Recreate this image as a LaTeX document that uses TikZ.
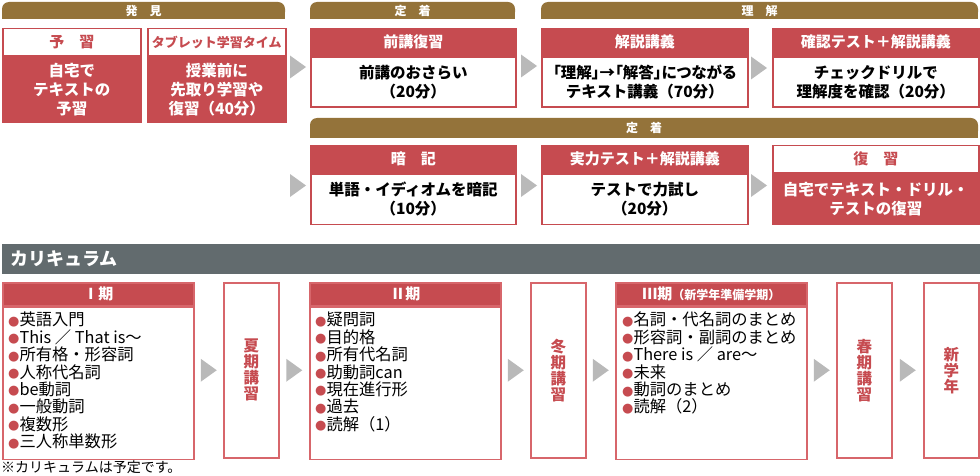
\documentclass[tikz,border=0pt]{standalone}
\usepackage{fontspec}
\setmainfont{Noto Sans CJK JP}
\newfontfamily\symfont{DejaVu Sans}
\usetikzlibrary{calc}

\definecolor{kred}{HTML}{C64B50}
\definecolor{kpink}{HTML}{D7666B}
\definecolor{gold}{HTML}{94733A}
\definecolor{slate}{HTML}{626B6E}
\definecolor{arrgray}{HTML}{B9B9B9}

\newcommand{\rdot}{\raisebox{0.5pt}{\symfont\fontsize{13}{13}\selectfont\textcolor{kred}{●}}}
\newcommand{\flowtri}[1]{\fill[arrgray] ($#1+(-8,-11.5)$) -- ($#1+(8,0)$) -- ($#1+(-8,11.5)$) -- cycle;}

\tikzset{
	bar/.style={fill=gold, rounded corners=7pt, text=white, inner sep=0pt, minimum height=17pt, font=\bfseries\fontsize{12}{12}\selectfont},
	hd/.style={draw=kred, line width=1.5pt, fill=kred, text=white, inner sep=0pt, anchor=north west, minimum height=27pt, font=\bfseries\fontsize{15}{15}\selectfont},
	hdw/.style={hd, fill=white, text=kred},
	bd/.style={draw=kred, line width=1.5pt, fill=white, text=black, inner sep=0pt, anchor=north west, align=center, font=\bfseries\fontsize{15.5}{19}\selectfont},
	bdr/.style={bd, fill=kred, text=white},
	ch/.style={draw=kpink, line width=1.5pt, fill=kred, text=white, inner sep=0pt, anchor=north west, minimum width=191pt, minimum height=23pt, font=\bfseries\fontsize{15}{15}\selectfont},
	cb/.style={draw=kpink, line width=1.5pt, fill=white, inner sep=0pt, anchor=north west, minimum width=191pt, minimum height=152pt},
	vbox/.style={draw=kpink, line width=1.5pt, text=kred, inner sep=0pt, anchor=north west, align=center, minimum width=55pt, minimum height=175pt, font=\bfseries\fontsize{15.5}{16}\selectfont},
	list/.style={anchor=north west, align=left, inner sep=0pt, font=\fontsize{16.3}{17.4}\selectfont}
}

\begin{document}
\begin{tikzpicture}[x=1pt, y=-1pt]

	\useasboundingbox (0,0) rectangle (980,476);

	\fill[gold] (2,10) rectangle (285,19);
	\node[bar, minimum width=283pt] (hakken) at (143.5,10.5) {発\quad 見};
	\fill[gold] (310,10) rectangle (515,19);
	\node[bar, minimum width=205pt] (teichaku) at (412.5,10.5) {定\quad 着};
	\fill[gold] (541,10) rectangle (978,19);
	\node[bar, minimum width=437pt] (rikai) at (759.5,10.5) {理\quad 解};

	\node[hdw, minimum width=138pt] (yoshuT) at (2,28) {予\quad 習};
	\node[bdr, minimum width=138pt, minimum height=65pt] (yoshu) at (yoshuT.south west) {自宅で\\テキストの\\予習};
	\node[hdw, minimum width=138pt, font=\bfseries\fontsize{13}{13}\selectfont] (tabletT) at (147,28) {タブレット学習タイム};
	\node[bdr, minimum width=138pt, minimum height=65pt] (tablet) at (tabletT.south west) {授業前に\\先取り学習や\\復習（40分）};

	\node[hd, minimum width=205pt] (zenkoT) at (310,28) {前講復習};
	\node[bd, minimum width=205pt, minimum height=50pt] (zenko) at (zenkoT.south west) {前講のおさらい\\（20分）};
	\node[hd, minimum width=206pt] (kaisetsuT) at (541,28) {解説講義};
	\node[bd, minimum width=206pt, minimum height=50pt] (kaisetsu) at (kaisetsuT.south west) {{\addfontfeature{RawFeature=+palt}「理解」→「解答」につながる}\\テキスト講義（70分）};
	\node[hd, minimum width=206pt] (kakuninT) at (772,28) {確認テスト＋解説講義};
	\node[bd, minimum width=206pt, minimum height=50pt] (kakunin) at (kakuninT.south west) {チェックドリルで\\理解度を確認（20分）};

	\flowtri{(298,67)}
	\flowtri{(529,66)}
	\flowtri{(759,68)}

	\fill[gold] (310,128) rectangle (978,138);
	\node[bar, minimum width=668pt, minimum height=20pt] (teichaku2) at (644,128) {定\quad 着};

	\node[hd, minimum width=205pt] (ankiT) at (310,145) {暗\quad 記};
	\node[bd, minimum width=205pt, minimum height=50pt] (anki) at (ankiT.south west) {単語・イディオムを暗記\\（10分）};
	\node[hd, minimum width=206pt] (jitsuryokuT) at (541,145) {実力テスト＋解説講義};
	\node[bd, minimum width=206pt, minimum height=50pt] (jitsuryoku) at (jitsuryokuT.south west) {テストで力試し\\（20分）};
	\node[hdw, minimum width=206pt] (fukushuT) at (772,145) {復\quad 習};
	\node[bdr, minimum width=206pt, minimum height=50pt] (fukushu) at (fukushuT.south west) {自宅でテキスト・ドリル・\\テストの復習};

	\flowtri{(298,185.5)}
	\flowtri{(529,185.5)}
	\flowtri{(759,185.5)}

	\node[fill=slate, anchor=north west, text width=962pt, inner xsep=8pt, inner ysep=0pt, minimum height=30pt, text=white, font=\bfseries\fontsize{18}{18}\selectfont] (curriculum) at (2,244) {カリキュラム};

	\node[ch] (ki1T) at (2,282) {Ⅰ期};
	\node[cb] (ki1) at (ki1T.south west) {};
	\node[list] (ki1List) at (8,312) {\rdot 英語入門\\\rdot This ／ That is～\\\rdot 所有格・形容詞\\\rdot 人称代名詞\\\rdot be動詞\\\rdot 一般動詞\\\rdot 複数形\\\rdot 三人称単数形};
	\node[vbox] (kaki) at (223,282) {夏\\期\\講\\習};

	\node[ch] (ki2T) at (309,282) {Ⅱ期};
	\node[cb] (ki2) at (ki2T.south west) {};
	\node[list] (ki2List) at (315,312) {\rdot 疑問詞\\\rdot 目的格\\\rdot 所有代名詞\\\rdot 助動詞can\\\rdot 現在進行形\\\rdot 過去\\\rdot 読解（1）};
	\node[vbox] (toki) at (530,282) {冬\\期\\講\\習};

	\node[ch] (ki3T) at (615,282) {Ⅲ期{\fontsize{12}{12}\selectfont（新学年準備学期）}};
	\node[cb] (ki3) at (ki3T.south west) {};
	\node[list] (ki3List) at (622,312) {\rdot 名詞・代名詞のまとめ\\\rdot 形容詞・副詞のまとめ\\\rdot There is ／ are～\\\rdot 未来\\\rdot 動詞のまとめ\\\rdot 読解（2）};
	\node[vbox] (shunki) at (836,282) {春\\期\\講\\習};
	\node[vbox] (shingakunen) at (923,282) {新\\学\\年};

	\coordinate (t1) at ($(ki1.east |- kaki.west)!.5!(kaki.west)$);
	\coordinate (t2) at ($(kaki.east)!.5!(ki2.west |- kaki.east)$);
	\coordinate (t3) at ($(ki2.east |- toki.west)!.5!(toki.west)$);
	\coordinate (t4) at ($(toki.east)!.5!(ki3.west |- toki.east)$);
	\coordinate (t5) at ($(ki3.east |- shunki.west)!.5!(shunki.west)$);
	\coordinate (t6) at ($(shunki.east)!.5!(shingakunen.west)$);
	\flowtri{(t1)}
	\flowtri{(t2)}
	\flowtri{(t3)}
	\flowtri{(t4)}
	\flowtri{(t5)}
	\flowtri{(t6)}

	\node[anchor=west, inner sep=0pt, font=\fontsize{14}{14}\selectfont] (note) at (1,467) {※カリキュラムは予定です。};

\end{tikzpicture}
\end{document}
